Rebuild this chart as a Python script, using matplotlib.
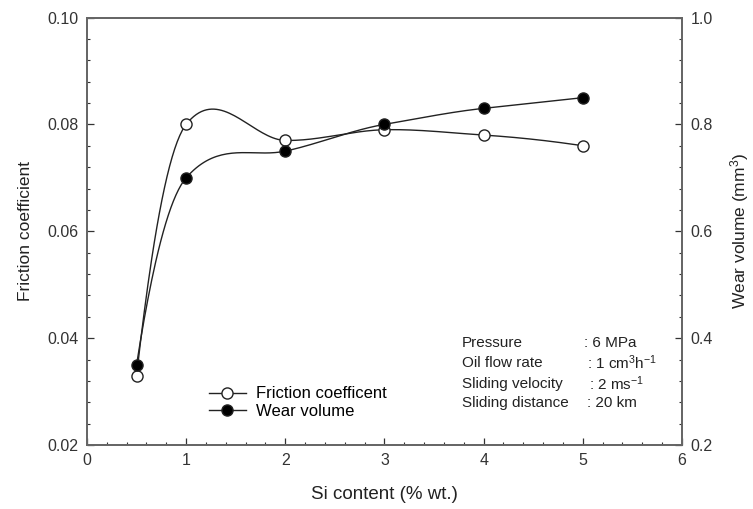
import matplotlib
matplotlib.use('Agg')
import matplotlib.pyplot as plt
from matplotlib.lines import Line2D
from matplotlib.ticker import MultipleLocator
import numpy as np

plt.rcParams['font.family'] = ['Liberation Sans', 'DejaVu Sans']
plt.rcParams['mathtext.fontset'] = 'custom'
plt.rcParams['mathtext.rm'] = 'Liberation Sans'
plt.rcParams['mathtext.it'] = 'Liberation Sans:italic'

si_content = [0.5, 1, 2, 3, 4, 5]
friction = [0.033, 0.080, 0.077, 0.079, 0.078, 0.076]
wear = [0.35, 0.70, 0.75, 0.80, 0.83, 0.85]

cond_names = ['Pressure', 'Oil flow rate', 'Sliding velocity', 'Sliding distance']
cond_values = [': 6 MPa', r': 1 cm$^3$h$^{-1}$', r': 2 ms$^{-1}$', ': 20 km']


def smooth(x, y, tension=0.8, n=40):
    # cardinal (Hermite) spline through the points, like the smooth line option
    x = np.asarray(x, float)
    y = np.asarray(y, float)
    k = len(x)
    m = np.zeros(k)
    for i in range(1, k - 1):
        m[i] = tension * (y[i + 1] - y[i - 1]) / (x[i + 1] - x[i - 1])
    m[0] = 2 * (y[1] - y[0]) / (x[1] - x[0]) - m[1]
    m[-1] = 2 * (y[-1] - y[-2]) / (x[-1] - x[-2]) - m[-2]
    xs, ys = [], []
    for i in range(k - 1):
        h = x[i + 1] - x[i]
        t = np.linspace(0, 1, n)
        h00 = 2 * t ** 3 - 3 * t ** 2 + 1
        h10 = t ** 3 - 2 * t ** 2 + t
        h01 = -2 * t ** 3 + 3 * t ** 2
        h11 = t ** 3 - t ** 2
        xs.append(x[i] + t * h)
        ys.append(h00 * y[i] + h10 * h * m[i] + h01 * y[i + 1] + h11 * h * m[i + 1])
    return np.concatenate(xs), np.concatenate(ys)


fig = plt.figure(figsize=(7.53, 5.09), dpi=100)
ax = fig.add_axes([0.1155, 0.1257, 0.7902, 0.8399])
ax2 = ax.twinx()

lc = '#222222'
sx, sy = smooth(si_content, friction)
ax.plot(sx, sy, color=lc, lw=1.0)
ax.plot(si_content, friction, 'o', ms=8, mfc='white', mec=lc, mew=1.0, zorder=5)
wx, wy = smooth(si_content, wear)
ax2.plot(wx, wy, color=lc, lw=1.0)
ax2.plot(si_content, wear, 'o', ms=8, mfc='black', mec=lc, mew=1.0, zorder=5)

ax.set_xlim(0, 6)
ax.set_ylim(0.02, 0.10)
ax2.set_ylim(0.2, 1.0)
ax.xaxis.set_major_locator(MultipleLocator(1))
ax.xaxis.set_minor_locator(MultipleLocator(0.2))
ax.yaxis.set_major_locator(MultipleLocator(0.02))
ax.yaxis.set_minor_locator(MultipleLocator(0.004))
ax2.yaxis.set_major_locator(MultipleLocator(0.2))
ax2.yaxis.set_minor_locator(MultipleLocator(0.04))
ax.yaxis.set_major_formatter(plt.FormatStrFormatter('%.2f'))
ax2.yaxis.set_major_formatter(plt.FormatStrFormatter('%.1f'))

for a in (ax, ax2):
    a.tick_params(which='major', direction='in', length=5, width=0.9,
                  labelsize=11.5, colors='#333333', labelcolor='#333333', pad=6)
    a.tick_params(which='minor', direction='in', length=2.5, width=0.8, colors='#333333')
    for s in a.spines.values():
        s.set_color('#666666')
        s.set_linewidth(1.3)

ax.set_xlabel('Si content (% wt.)', fontsize=13.5, color='#222222', labelpad=13)
ax.set_ylabel('Friction coefficient', fontsize=12.5, color='#222222', labelpad=10)
ax2.set_ylabel('Wear volume (mm$^3$)', fontsize=12.5, color='#222222', labelpad=11)

handles = [Line2D([], [], color=lc, lw=1.0, marker='o', ms=8, mfc='white', mec=lc),
           Line2D([], [], color=lc, lw=1.0, marker='o', ms=8, mfc='black', mec=lc)]
ax.legend(handles, ['Friction coefficent', 'Wear volume'], loc='upper left',
          bbox_to_anchor=(0.18, 0.172), frameon=False, fontsize=12,
          handlelength=2.2, handletextpad=0.6, labelspacing=0.15)

ys_px = [343, 363, 384, 403]
colon_px = [584, 587, 589, 587]
for name, val, ypx, cx in zip(cond_names, cond_values, ys_px, colon_px):
    fy = (509 - ypx) / 509
    fig.text(462 / 753, fy, name, fontsize=11, color='#222222', va='center')
    fig.text(cx / 753, fy, val, fontsize=11, color='#222222', va='center')

fig.savefig('out.png', dpi=100)
